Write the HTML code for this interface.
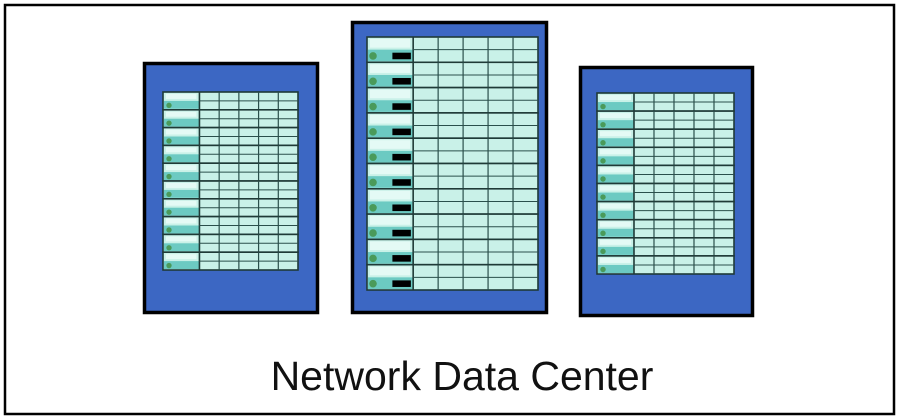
<!DOCTYPE html>
<html><head><style>
html,body{margin:0;padding:0;background:#fff;width:900px;height:420px;overflow:hidden}
</style></head><body>
<svg id="s" width="900" height="420" xmlns="http://www.w3.org/2000/svg">
<rect x="0" y="0" width="900" height="420" fill="#fff"/>
<rect x="5" y="5" width="889" height="409" fill="none" stroke="#000" stroke-width="2.5"/>
<g id="g"></g>
<text x="462" y="390" font-family="Liberation Sans, sans-serif" font-size="41" text-anchor="middle" fill="#111">Network Data Center</text>
</svg>
<script>
var g=document.getElementById('g'),h='';
function rack(x,y,w,hh,ix,iy,iw,ih,n,big){
 h+='<rect x="'+(x+1.5)+'" y="'+(y+1.5)+'" width="'+(w-3)+'" height="'+(hh-3)+'" fill="#3c67c3" stroke="#000" stroke-width="3.5"/>';
 var uh=ih/n;
 for(var i=0;i<n;i++){
  var uy=iy+i*uh;
  h+='<rect x="'+ix+'" y="'+uy+'" width="'+iw+'" height="'+uh+'" fill="#c9f1e8" stroke="#1f3a37" stroke-width="1.6"/>';
  var lw=iw*0.27;
  h+='<rect x="'+(ix+1)+'" y="'+(uy+uh/2)+'" width="'+(lw-1)+'" height="'+(uh/2-1)+'" fill="#6ccac2"/>';
  h+='<rect x="'+(ix+3)+'" y="'+(uy+2)+'" width="'+(lw-6)+'" height="'+(uh/2-4)+'" fill="#e4faf5"/>';
  h+='<circle cx="'+(ix+6)+'" cy="'+(uy+uh*0.75)+'" r="'+(uh*0.15)+'" fill="#4a9a5a"/>';
  if(big)h+='<rect x="'+(ix+lw*0.55)+'" y="'+(uy+uh*0.62)+'" width="'+(lw*0.4)+'" height="'+(uh*0.26)+'" fill="#000"/>';
  h+='<line x1="'+(ix+lw)+'" y1="'+uy+'" x2="'+(ix+lw)+'" y2="'+(uy+uh)+'" stroke="#1f3a37" stroke-width="1.6"/>';
  h+='<line x1="'+(ix+lw)+'" y1="'+(uy+uh/2)+'" x2="'+(ix+iw)+'" y2="'+(uy+uh/2)+'" stroke="#2a4f4b" stroke-width="1"/>';
  var cw=(iw-lw)/5;
  for(var c=1;c<5;c++){var cx=ix+lw+c*cw;h+='<line x1="'+cx+'" y1="'+uy+'" x2="'+cx+'" y2="'+(uy+uh)+'" stroke="#2a4f4b" stroke-width="1.2"/>';}
 }
}
rack(143,62,176,252,163,92,135,178,10,false);
rack(351,21,197,293,367,37,171,253,10,true);
rack(579,66,175,251,597,93,137,181,10,false);
g.innerHTML=h;
</script>
</body></html>
